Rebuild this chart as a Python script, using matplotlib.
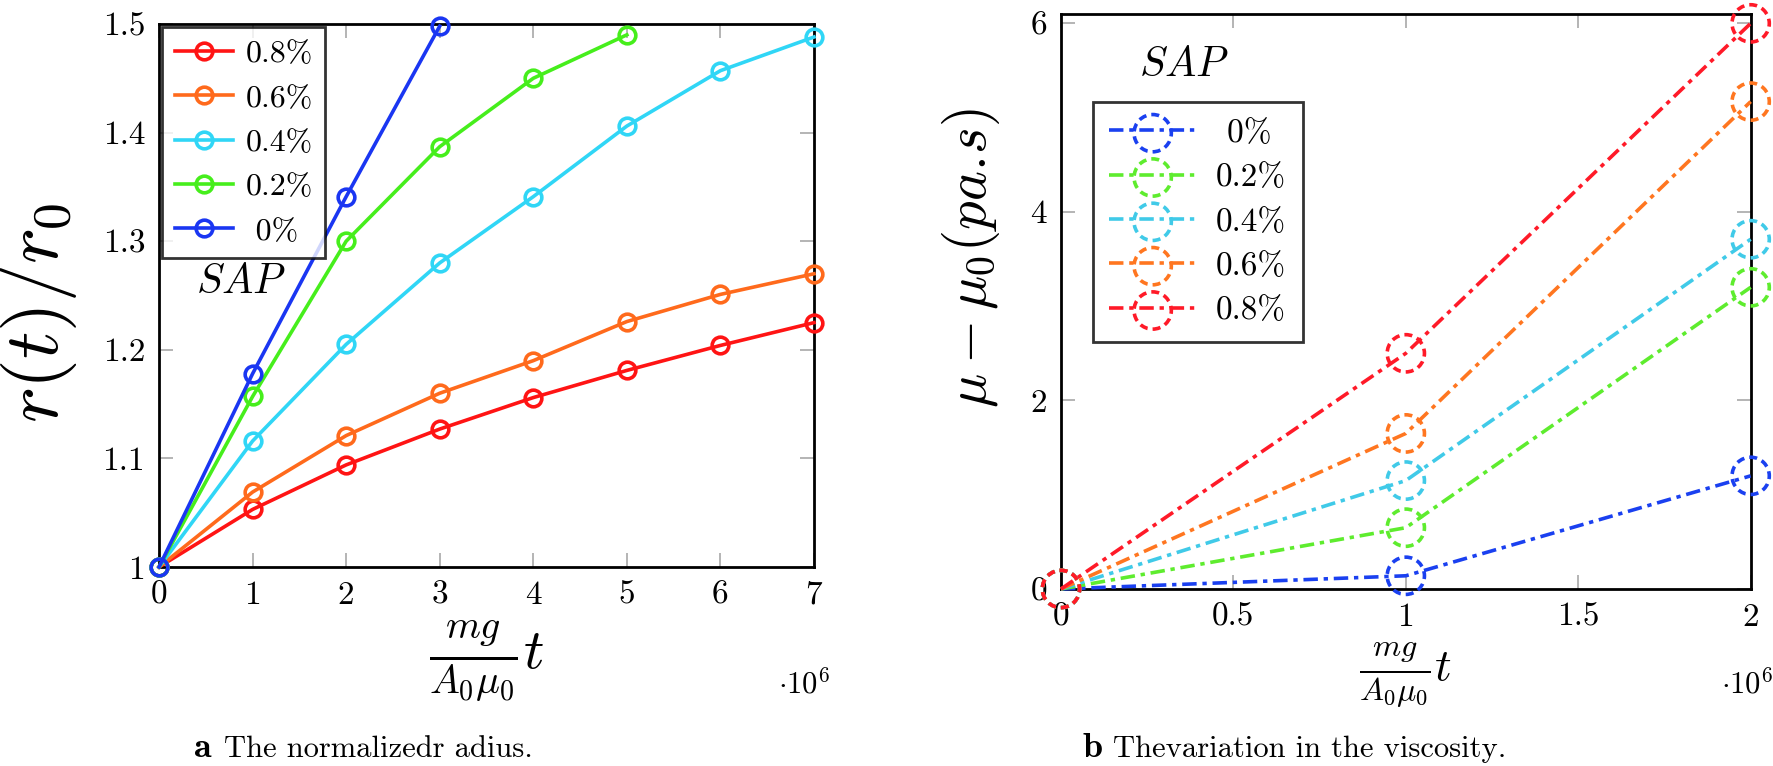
import matplotlib
matplotlib.use("Agg")
import matplotlib.pyplot as plt

plt.rcParams["font.family"] = ["cmr10"]
plt.rcParams["mathtext.fontset"] = "cm"
plt.rcParams["axes.formatter.use_mathtext"] = True

# ---- data: panel a, normalised radius vs scaled time (x in units of 1e6) ----
t_a = [0, 1, 2, 3, 4, 5, 6, 7]
r_08 = [1.0, 1.053, 1.094, 1.127, 1.156, 1.181, 1.204, 1.225]
r_06 = [1.0, 1.069, 1.121, 1.160, 1.190, 1.226, 1.251, 1.270]
r_04 = [1.0, 1.116, 1.205, 1.280, 1.341, 1.406, 1.457, 1.488]
r_02 = [1.0, 1.157, 1.300, 1.387, 1.450, 1.490]
r_00 = [1.0, 1.178, 1.341, 1.498]
labels_a = ["0.8%", "0.6%", "0.4%", "0.2%", " 0%"]

# ---- data: panel b, viscosity change vs scaled time (x in units of 1e6) ----
t_b = [0, 1, 2]
mu_00 = [0.0, 0.14, 1.20]
mu_02 = [0.0, 0.65, 3.20]
mu_04 = [0.0, 1.15, 3.71]
mu_06 = [0.0, 1.65, 5.17]
mu_08 = [0.0, 2.50, 6.00]
labels_b = [" 0%", "0.2%", "0.4%", "0.6%", "0.8%"]

cols_a = ["#ff1414", "#ff6a1c", "#30d6f6", "#46ee1c", "#1a36f2"]
cols_b = ["#1a40f0", "#5eec2e", "#40cae8", "#ff7620", "#ff1a28"]

fig = plt.figure(figsize=(17.73, 7.66), dpi=100)
ax1 = fig.add_axes([0.0897, 0.2598, 0.3694, 0.7089])
ax2 = fig.add_axes([0.5984, 0.2311, 0.3890, 0.7507])


def style_axes(ax):
    for s in ax.spines.values():
        s.set_linewidth(2.0)
    ax.tick_params(direction="in", length=10, width=1.2, color="#a8a8a8",
                   top=True, right=True, labelsize=24, pad=10)


# panel a
series_a = [(t_a, r_08), (t_a, r_06), (t_a, r_04), (t_a[:len(r_02)], r_02),
            (t_a[:len(r_00)], r_00)]
handles = []
for (x, y), c, lab in zip(series_a, cols_a, labels_a):
    (ln,) = ax1.plot(x, y, color=c, lw=2.6, marker="o", ms=12, mfc="none",
                     mew=2.6, label=lab, clip_on=False, zorder=3)
    handles.append(ln)
ax1.set_xlim(0, 7)
ax1.set_ylim(1, 1.5)
ax1.set_xticks(t_a)
ax1.set_xticklabels([str(v) for v in t_a])
ax1.set_yticks([1, 1.1, 1.2, 1.3, 1.4, 1.5])
ax1.set_yticklabels(["1", "1.1", "1.2", "1.3", "1.4", "1.5"])
style_axes(ax1)
leg = ax1.legend(handles=handles, loc="upper left", fontsize=23,
                 frameon=True, fancybox=False, edgecolor="black",
                 borderaxespad=0.1, handlelength=1.8, handletextpad=0.4,
                 labelspacing=0.5, borderpad=0.4)
leg.get_frame().set_linewidth(2.0)
leg.set_zorder(5)
ax1.text(0.125, 0.525, r"$SAP$", transform=ax1.transAxes, fontsize=30,
         ha="center", va="center")
ax1.set_ylabel(r"$r(t)/r_0$", fontsize=55)
ax1.yaxis.set_label_coords(-0.122, 0.468)
ax1.set_xlabel(r"$\frac{mg}{A_0\mu_0}t$", fontsize=41, labelpad=6)
ax1.text(0.985, -0.215, r"$\cdot 10^6$", transform=ax1.transAxes,
         fontsize=22, ha="center", va="center")

# panel b
series_b = [mu_00, mu_02, mu_04, mu_06, mu_08]
handles_b = []
for y, c, lab in zip(series_b, cols_b, labels_b):
    (ln,) = ax2.plot(t_b, y, color=c, lw=2.6, ls=(0, (4, 1.6, 1.2, 1.6)),
                     clip_on=False, zorder=3)
    sc = ax2.scatter(t_b, y, s=720, facecolors="none", edgecolors=c,
                     linewidths=2.6, linestyles=(0, (2.2, 1.4)),
                     clip_on=False, zorder=4)
    handles_b.append((ln, sc))
ax2.set_xlim(0, 2)
ax2.set_ylim(0, 6.1)
ax2.set_xticks([0, 0.5, 1, 1.5, 2])
ax2.set_xticklabels(["0", "0.5", "1", "1.5", "2"])
ax2.set_yticks([0, 2, 4, 6])
ax2.set_yticklabels(["0", "2", "4", "6"])
style_axes(ax2)
leg2 = ax2.legend(handles=handles_b, labels=labels_b, loc="upper left",
                  bbox_to_anchor=(0.046, 0.847), fontsize=24, frameon=True,
                  fancybox=False, edgecolor="black", borderaxespad=0,
                  handlelength=2.6, handletextpad=0.6, labelspacing=0.45,
                  borderpad=0.5, scatterpoints=1)
leg2.get_frame().set_linewidth(2.0)
ax2.text(0.178, 0.911, r"$SAP$", transform=ax2.transAxes, fontsize=30,
         ha="center", va="center")
ax2.set_ylabel(r"$\mu-\mu_0(pa.\!s)$", fontsize=41)
ax2.yaxis.set_label_coords(-0.085, 0.576)
ax2.set_xlabel(r"$\frac{mg}{A_0\mu_0}t$", fontsize=33, labelpad=6)
ax2.text(0.995, -0.165, r"$\cdot 10^6$", transform=ax2.transAxes,
         fontsize=22, ha="center", va="center")

# captions
fig.text(0.1094, 0.012, "a", fontfamily="cmb10", fontsize=26, va="baseline")
fig.text(0.1265, 0.012, "The normalizedr adius.", fontsize=22, va="baseline")
fig.text(0.6108, 0.012, "b", fontfamily="cmb10", fontsize=26, va="baseline")
fig.text(0.6275, 0.012, "Thevariation in the viscosity.", fontsize=22,
         va="baseline")

fig.savefig("out.png", dpi=100)
